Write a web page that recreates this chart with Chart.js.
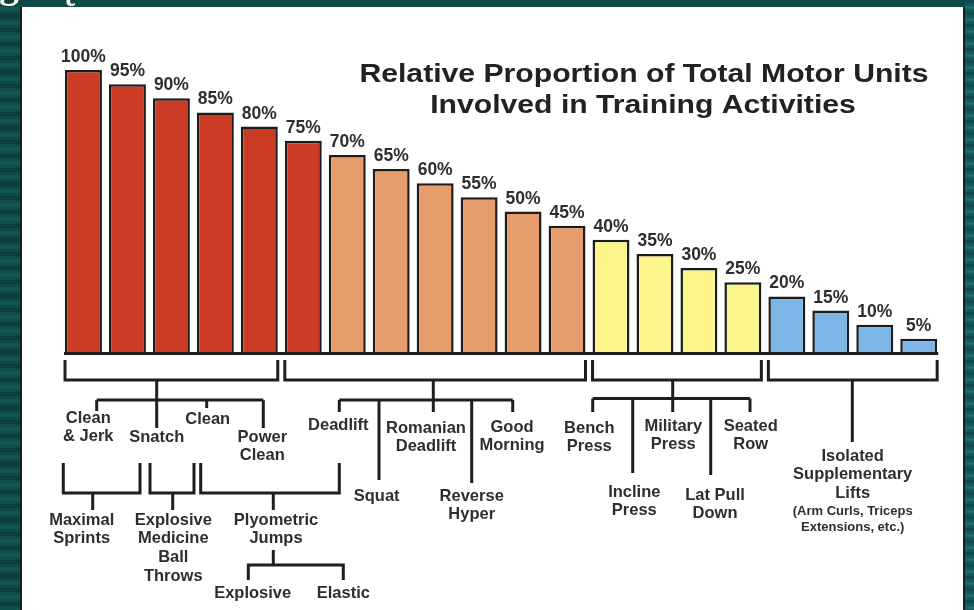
<!DOCTYPE html>
<html>
<head>
<meta charset="utf-8">
<title>Relative Proportion of Total Motor Units Involved in Training Activities</title>
<script src="https://cdn.jsdelivr.net/npm/chart.js@4/dist/chart.umd.min.js"></script>
<style>
  html, body { margin: 0; padding: 0; background: #0f4a44; }
  canvas { display: block; }
</style>
</head>
<body>
<canvas id="chart" width="974" height="610"></canvas>
<script>
// ---- data ----
const ranks = ['1', '2', '3', '4', '5', '6', '7', '8', '9', '10',
               '11', '12', '13', '14', '15', '16', '17', '18', '19', '20'];
const motorUnitPct = [100, 95, 90, 85, 80, 75, 70, 65, 60, 55,
                      50, 45, 40, 35, 30, 25, 20, 15, 10, 5];
// colour tier of each bar (0 = red, 1 = orange, 2 = yellow, 3 = blue)
const barTier = [0, 0, 0, 0, 0, 0, 1, 1, 1, 1, 1, 1, 2, 2, 2, 2, 3, 3, 3, 3];
// bars covered by each bracket under the axis (first index, last index)
const groupSpans = [[0, 4], [5, 11], [12, 15], [16, 19]];
const titleLines = ['Relative Proportion of Total Motor Units', 'Involved in Training Activities'];

// ---- styles ----
const tierColors = ['#cc3b24', '#e49d6b', '#fbf58b', '#7bb6e6'];
const ink = '#1e1e1e';
const textInk = '#2e2e2e';
const FONT = '"Liberation Sans", Arial, Helvetica, sans-serif';

// Activity tree below the bars: lines and labels in canvas pixels
const treeLines = [
  // explosive lifts
  [[156.7, 380], [156.7, 428]], [[96.7, 400], [263.3, 400]],
  [[96.7, 400], [96.7, 411]], [[206.7, 400], [206.7, 408]], [[263.3, 400], [263.3, 428]],
  [[63.3, 463], [63.3, 493], [140, 493], [140, 463]], [[92.7, 493], [92.7, 510]],
  [[150, 463], [150, 493], [194, 493], [194, 463]], [[172.7, 493], [172.7, 510]],
  [[200.7, 463], [200.7, 493], [339.3, 493], [339.3, 463]], [[273.3, 493], [273.3, 510]],
  [[273.3, 550], [273.3, 565]], [[248.3, 580], [248.3, 565], [343.3, 565], [343.3, 580]],
  // strength lifts
  [[433.3, 380], [433.3, 412]], [[339.3, 400], [512.7, 400]],
  [[339.3, 400], [339.3, 412]], [[379, 400], [379, 480]],
  [[471.7, 400], [471.7, 483]], [[512.7, 400], [512.7, 412]],
  // upper body lifts
  [[672.7, 380], [672.7, 412]], [[592.7, 398.5], [750, 398.5]],
  [[592.7, 398.5], [592.7, 412]], [[632.7, 398.5], [632.7, 473]],
  [[710.7, 398.5], [710.7, 475]], [[750, 398.5], [750, 412]],
  // supplementary lifts
  [[852.3, 380], [852.3, 442]]
];

const treeLabels = [
  { x: 88.3, y: 418, lines: ['Clean', '& Jerk'] },
  { x: 156.7, y: 437, lines: ['Snatch'] },
  { x: 207.7, y: 419, lines: ['Clean'] },
  { x: 262.3, y: 437, lines: ['Power', 'Clean'] },
  { x: 81.7, y: 520, lines: ['Maximal', 'Sprints'] },
  { x: 173.3, y: 520, lines: ['Explosive', 'Medicine', 'Ball', 'Throws'] },
  { x: 276, y: 520, lines: ['Plyometric', 'Jumps'] },
  { x: 252.7, y: 593, lines: ['Explosive'] },
  { x: 343.3, y: 593, lines: ['Elastic'] },
  { x: 338.3, y: 425, lines: ['Deadlift'] },
  { x: 426, y: 428, lines: ['Romanian', 'Deadlift'] },
  { x: 512, y: 427, lines: ['Good', 'Morning'] },
  { x: 376.7, y: 496, lines: ['Squat'] },
  { x: 471.7, y: 496, lines: ['Reverse', 'Hyper'] },
  { x: 589.3, y: 428, lines: ['Bench', 'Press'] },
  { x: 673.3, y: 426, lines: ['Military', 'Press'] },
  { x: 750.7, y: 426, lines: ['Seated', 'Row'] },
  { x: 634.3, y: 492, lines: ['Incline', 'Press'] },
  { x: 715, y: 495, lines: ['Lat Pull', 'Down'] },
  { x: 852.7, y: 456, lines: ['Isolated', 'Supplementary', 'Lifts'] },
  { x: 852.7, y: 511, lines: ['(Arm Curls, Triceps', 'Extensions, etc.)'], small: true }
];

// Slide backdrop: striped teal frame with a white panel
const backdrop = {
  id: 'backdrop',
  beforeDraw(chart) {
    const c = chart.ctx;
    const W = chart.width, H = chart.height;
    c.save();
    c.fillStyle = '#0f4a46';
    c.fillRect(0, 0, W, H);
    // horizontal stripes on the frame
    for (let y = 0; y < H; y += 7) {
      c.fillStyle = (Math.floor(y / 7) % 2) ? 'rgba(30,110,95,0.35)' : 'rgba(5,40,35,0.35)';
      c.fillRect(0, y, 20, 4);
      c.fillStyle = (Math.floor(y / 7) % 2) ? 'rgba(40,120,120,0.45)' : 'rgba(10,60,60,0.35)';
      c.fillRect(965, y, 9, 4);
    }
    c.fillStyle = '#14595a';
    c.fillRect(965, 0, 9, H);
    for (let y = 0; y < H; y += 6) {
      c.fillStyle = (Math.floor(y / 6) % 2) ? 'rgba(40,125,125,0.5)' : 'rgba(8,55,55,0.4)';
      c.fillRect(965, y, 9, 3);
    }
    // white heading glyphs running off the top edge
    c.fillStyle = '#f4f4f4';
    c.font = 'bold 40px "Liberation Serif", "DejaVu Serif", serif';
    c.textBaseline = 'alphabetic';
    c.textAlign = 'left';
    c.fillText('g', -1, -3);
    c.fillText('ą', 56, -3);
    // panel with dark edges
    c.fillStyle = '#1c1c1c';
    c.fillRect(20, 7, 945, H - 7);
    c.fillStyle = '#ffffff';
    c.fillRect(22, 7, 941, H - 7);
    c.restore();
  }
};

function drawStretchedText(c, text, x, y, sx) {
  c.save();
  c.translate(x, y);
  c.scale(sx, 1);
  c.fillText(text, 0, 0);
  c.restore();
}

// Value labels, title, axis line and the activity tree
const annotations = {
  id: 'annotations',
  afterDatasetsDraw(chart) {
    const c = chart.ctx;
    const xs = chart.scales.x, ys = chart.scales.y;
    const meta = chart.getDatasetMeta(0);
    const base = ys.getPixelForValue(0);
    c.save();

    // axis line under the bars
    const first = meta.data[0], last = meta.data[meta.data.length - 1];
    c.strokeStyle = ink;
    c.lineWidth = 3;
    c.beginPath();
    c.moveTo(first.x - first.width / 2 - 1, base + 0.5);
    c.lineTo(last.x + last.width / 2 + 1, base + 0.5);
    c.stroke();

    // percentage labels above each bar
    c.fillStyle = textInk;
    c.font = 'bold 17.5px ' + FONT;
    c.textAlign = 'center';
    c.textBaseline = 'alphabetic';
    meta.data.forEach((bar, i) => {
      c.fillText(motorUnitPct[i] + '%', bar.x, bar.y - 8);
    });

    // title
    c.fillStyle = '#222222';
    c.font = 'bold 26px ' + FONT;
    c.textAlign = 'center';
    drawStretchedText(c, titleLines[0], 644, 81.5, 1.16);
    drawStretchedText(c, titleLines[1], 643, 113, 1.16);

    // brackets spanning each group of bars
    c.strokeStyle = ink;
    c.lineWidth = 3;
    c.lineJoin = 'miter';
    c.lineCap = 'butt';
    groupSpans.forEach(([a, b]) => {
      const l = meta.data[a].x - meta.data[a].width / 2;
      const r = meta.data[b].x + meta.data[b].width / 2;
      c.beginPath();
      c.moveTo(l, 360);
      c.lineTo(l, 380);
      c.lineTo(r, 380);
      c.lineTo(r, 360);
      c.stroke();
    });

    // tree connectors
    treeLines.forEach(pts => {
      c.beginPath();
      pts.forEach(([x, y], k) => (k ? c.lineTo(x, y) : c.moveTo(x, y)));
      c.stroke();
    });

    // tree labels
    c.fillStyle = textInk;
    c.textAlign = 'center';
    c.textBaseline = 'middle';
    treeLabels.forEach(lab => {
      c.font = (lab.small ? 'bold 13px ' : 'bold 16.5px ') + FONT;
      const lh = lab.small ? 16 : 18.7;
      lab.lines.forEach((t, k) => c.fillText(t, lab.x, lab.y + k * lh));
    });

    c.restore();
  }
};

new Chart(document.getElementById('chart'), {
  type: 'bar',
  data: {
    labels: ranks,
    datasets: [{
      data: motorUnitPct,
      backgroundColor: barTier.map(t => tierColors[t]),
      borderColor: '#1c1c1c',
      borderWidth: 2.5,
      borderSkipped: 'bottom',
      barPercentage: 0.84,
      categoryPercentage: 1
    }]
  },
  options: {
    responsive: false,
    animation: false,
    devicePixelRatio: 1,
    layout: { padding: { left: 61.5, right: 33.3, top: 70, bottom: 257 } },
    scales: {
      x: { display: false, offset: true },
      y: { display: false, min: 0, max: 100 }
    },
    plugins: {
      legend: { display: false },
      tooltip: { enabled: false },
      title: { display: false }
    }
  },
  plugins: [backdrop, annotations]
});
</script>
</body>
</html>
